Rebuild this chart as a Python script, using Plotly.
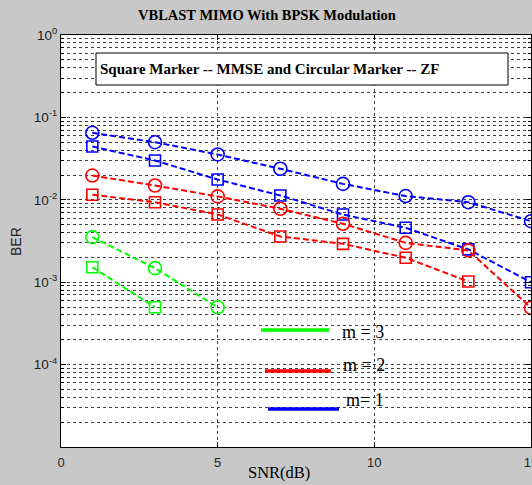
import plotly.graph_objects as go

# ---- data ----
snr = [1, 3, 5, 7, 9, 11, 13, 15]
zf_m1 = [0.065, 0.050, 0.0355, 0.0238, 0.0156, 0.0111, 0.00935, 0.0055]
mmse_m1 = [0.0443, 0.030, 0.0176, 0.0113, 0.00663, 0.00457, 0.0025, 0.001]
zf_m2 = [0.0197, 0.0149, 0.011, 0.00778, 0.00512, 0.0030, 0.00243, 0.000489]
snr_mmse_m2 = [1, 3, 5, 7, 9, 11, 13]
mmse_m2 = [0.0115, 0.00935, 0.00663, 0.00359, 0.00292, 0.00198, 0.00102]
snr_zf_m3 = [1, 3, 5]
zf_m3 = [0.00352, 0.00148, 0.000497]
snr_mmse_m3 = [1, 3]
mmse_m3 = [0.00152, 0.000497]

x_ticks = [0, 5, 10, 15]
y_ticks = [1, 0.1, 0.01, 0.001, 0.0001]
y_ticktext = ["10<sup>0</sup>", "10<sup>-1</sup>", "10<sup>-2</sup>", "10<sup>-3</sup>", "10<sup>-4</sup>"]
y_minor = [m * 10.0 ** e for e in range(-5, 0) for m in range(2, 10)]

legend_labels = ["m = 3", "m = 2", "m= 1"]

BLUE, RED, GREEN = "#0000ff", "#ff0000", "#00ff00"
SERIF = "Liberation Serif"
SANS = "Liberation Sans"

fig = go.Figure()

def add(xs, ys, color, symbol, size):
    fig.add_trace(go.Scatter(
        x=xs, y=ys, mode="lines+markers",
        line=dict(color=color, width=2, dash="6px,3px"),
        marker=dict(symbol=symbol, size=size, color=color, line=dict(color=color, width=1.6)),
        showlegend=False, hoverinfo="skip", cliponaxis=False))

add(snr, zf_m1, BLUE, "circle-open", 13)
add(snr, mmse_m1, BLUE, "square-open", 11)
add(snr, zf_m2, RED, "circle-open", 13)
add(snr_mmse_m2, mmse_m2, RED, "square-open", 11)
add(snr_zf_m3, zf_m3, GREEN, "circle-open", 13)
add(snr_mmse_m3, mmse_m3, GREEN, "square-open", 11)

GRID = "#404040"

fig.update_xaxes(
    range=[0, 15], tickvals=x_ticks, showgrid=True, gridcolor=GRID, griddash="3px,3px",
    gridwidth=1, zeroline=False, showline=True, linecolor="black", linewidth=1,
    mirror="ticks", ticks="inside", ticklen=5, tickcolor="black",
    tickfont=dict(family=SANS, size=13, color="#222"), ticklabelstandoff=3,
    ticklabeloverflow="allow")

fig.update_yaxes(
    type="log", range=[-5, 0], tickvals=y_ticks, ticktext=y_ticktext,
    showgrid=True, gridcolor=GRID, griddash="3px,3px", gridwidth=1,
    zeroline=False, showline=True, linecolor="black", linewidth=1,
    mirror="ticks", ticks="inside", ticklen=5, tickcolor="black",
    tickfont=dict(family=SANS, size=13.5, color="#222"),
    minor=dict(tickvals=y_minor, showgrid=True, gridcolor=GRID, griddash="3px,3px",
               gridwidth=1, ticks="inside", ticklen=3, tickcolor="black"))

L, R, T, B = 61, 1, 35, 38
W, H = 532, 485
pw, ph = W - L - R, H - T - B

def px(x):
    return (x - L) / pw

def py(y):
    return (H - B - y) / ph

shapes = [
    # white patch behind legend labels (hides gridlines)
    dict(type="rect", xref="paper", yref="paper", x0=px(338), x1=px(400), y0=py(424), y1=py(318),
         fillcolor="white", line=dict(width=0), layer="between"),
    # annotation box
    dict(type="rect", xref="paper", yref="paper", x0=px(96), x1=px(508), y0=py(85), y1=py(53),
         fillcolor="white", line=dict(color="black", width=1), layer="above"),
    # legend sample lines
    dict(type="line", xref="paper", yref="paper", x0=px(261), x1=px(329), y0=py(330), y1=py(330),
         line=dict(color=GREEN, width=3.5), layer="above"),
    dict(type="line", xref="paper", yref="paper", x0=px(265), x1=px(331), y0=py(371), y1=py(371),
         line=dict(color=RED, width=3.5), layer="above"),
    dict(type="line", xref="paper", yref="paper", x0=px(268), x1=px(339), y0=py(409), y1=py(409),
         line=dict(color=BLUE, width=3.5), layer="above"),
]

annotations = [
    dict(text="<b>VBLAST MIMO With BPSK Modulation</b>", xref="paper", yref="paper",
         x=px(267), y=py(15), xanchor="center", yanchor="middle", showarrow=False,
         font=dict(family=SERIF, size=14.5, color="black")),
    dict(text="<b>Square Marker -- MMSE and Circular Marker -- ZF</b>", xref="paper", yref="paper",
         x=px(98), y=py(69), xanchor="left", yanchor="middle", showarrow=False,
         font=dict(family=SERIF, size=15, color="black")),
    dict(text="SNR(dB)", xref="paper", yref="paper", x=px(279), y=py(472),
         xanchor="center", yanchor="middle", showarrow=False,
         font=dict(family=SERIF, size=16.5, color="black")),
    dict(text="BER", xref="paper", yref="paper", x=px(16), y=py(242), textangle=-90,
         xanchor="center", yanchor="middle", showarrow=False,
         font=dict(family=SANS, size=14, color="#222")),
]
for lab, lx, ly in zip(legend_labels, [340, 341, 344], [332, 365, 400]):
    annotations.append(dict(text=lab, xref="paper", yref="paper", x=px(lx), y=py(ly),
                            xanchor="left", yanchor="middle", showarrow=False,
                            font=dict(family=SERIF, size=18, color="black")))

fig.update_layout(
    template="none", width=W, height=H, autosize=False,
    margin=dict(l=L, r=R, t=T, b=B, pad=0),
    paper_bgcolor="#c8c8c8", plot_bgcolor="white",
    shapes=shapes, annotations=annotations, showlegend=False)

fig.write_html(
    "out.html",
    config={"displayModeBar": False, "staticPlot": True},
    post_script="document.body.style.margin='0';document.body.style.padding='0';"
                "document.body.style.overflow='hidden';"
                "document.documentElement.style.overflow='hidden';")
